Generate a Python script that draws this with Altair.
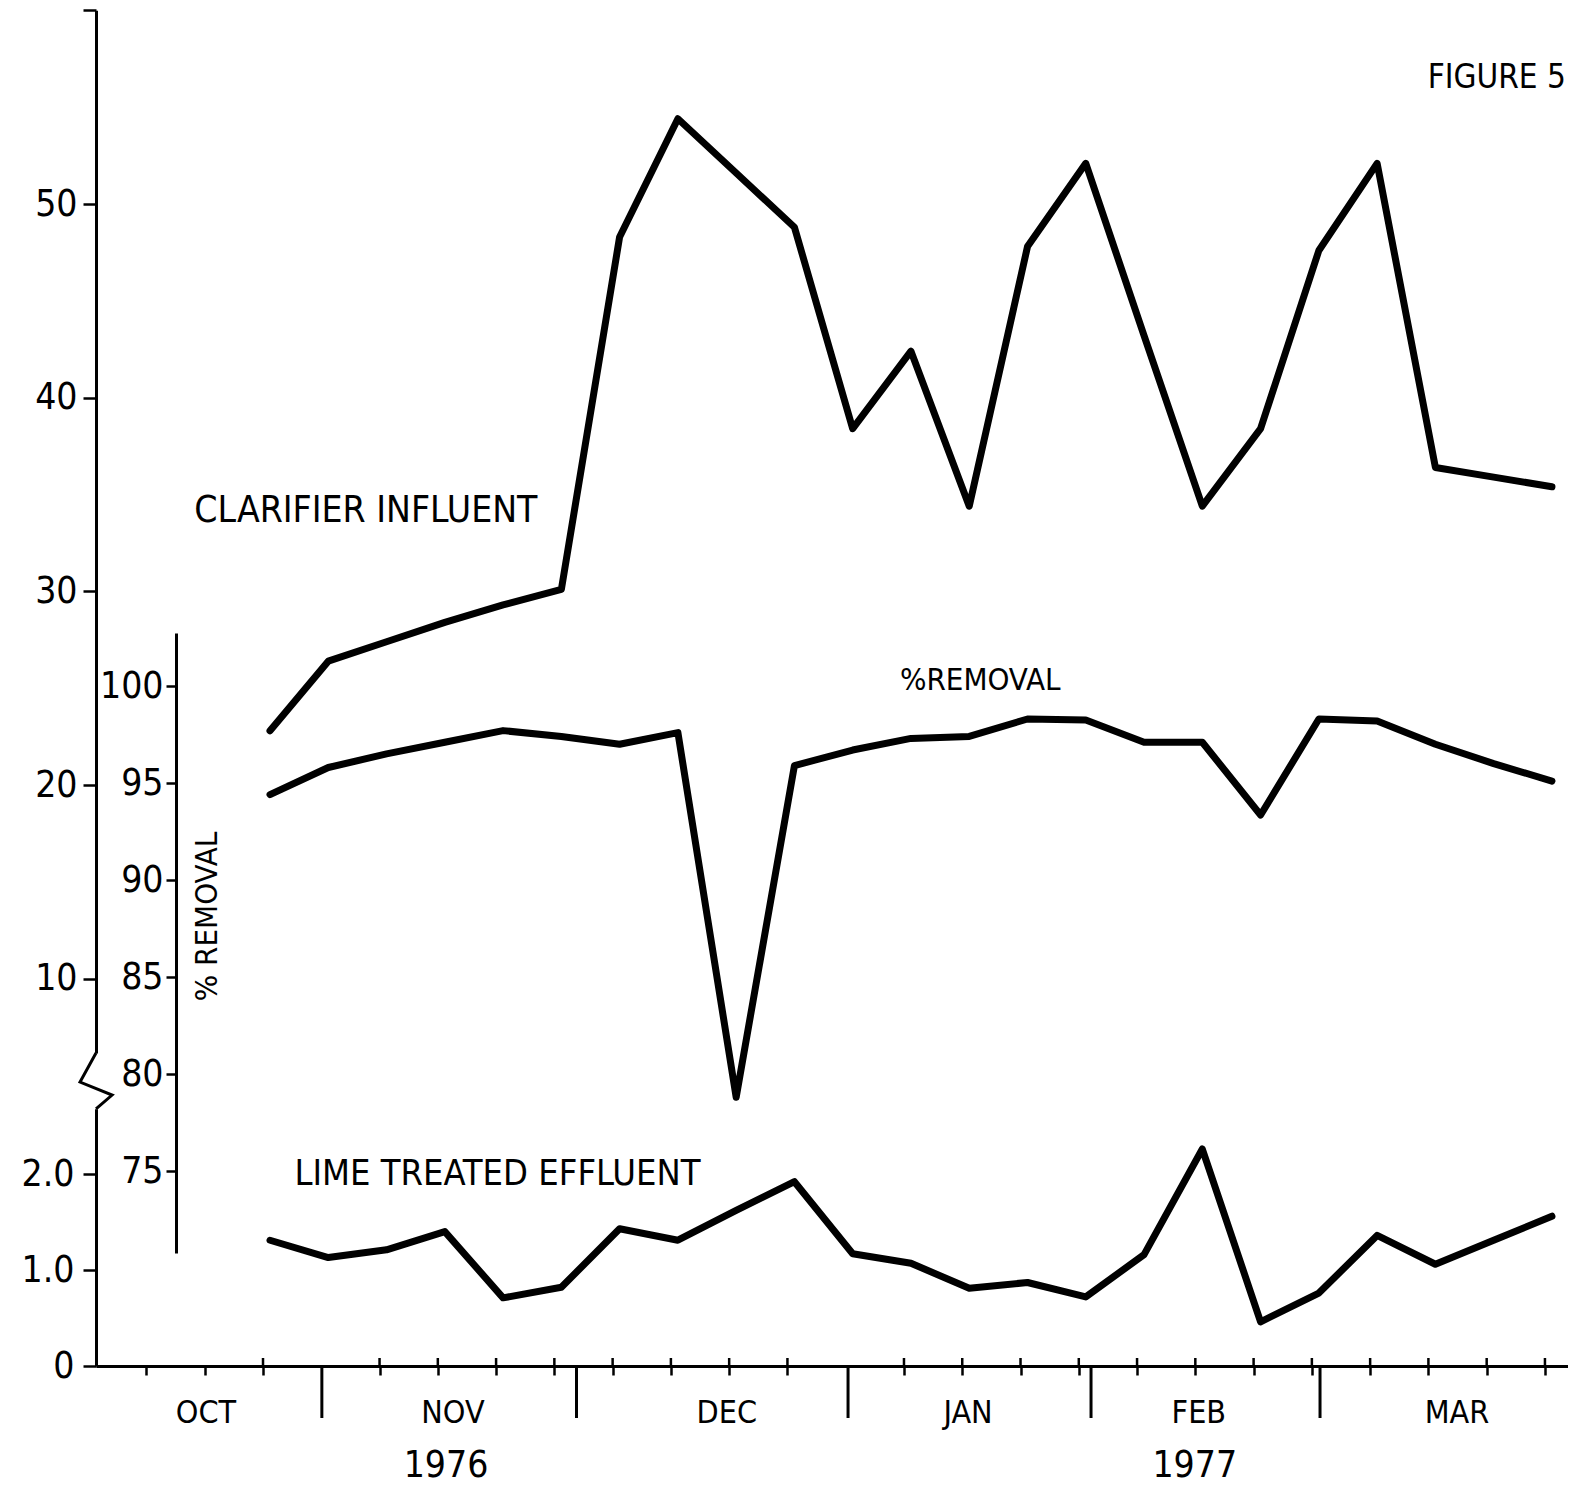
import altair as alt
import pandas as pd

# ---------------- data ----------------
weeks = list(range(2, 25))
clarifier_influent = [22.8, 26.4, 27.4, 28.4, 29.3, 30.1, 48.3, 54.4, 51.6, 48.8, 38.4, 42.4,
                      34.4, 47.8, 52.1, 43.2, 34.4, 38.4, 47.6, 52.1, 36.4, 35.9, 35.4]
percent_removal = [94.4, 95.8, 96.5, 97.1, 97.7, 97.4, 97.0, 97.6, 78.8, 95.9, 96.7, 97.3,
                   97.4, 98.3, 98.25, 97.1, 97.1, 93.35, 98.3, 98.2, 97.0, 96.0, 95.1]
lime_effluent = [1.31, 1.13, 1.21, 1.40, 0.71, 0.82, 1.43, 1.31, 1.62, 1.92, 1.17, 1.07,
                 0.81, 0.87, 0.72, 1.16, 2.26, 0.46, 0.76, 1.36, 1.06, 1.31, 1.56]

upper_ticks = [10, 20, 30, 40, 50, 60]
lower_ticks = [0, 1.0, 2.0]
removal_ticks = [75, 80, 85, 90, 95, 100]

week_ticks = [k - 0.12 for k in range(25) if k not in (3, 12)]
week_ticks_up = [k - 0.12 for k in range(2, 25) if k not in (3, 12)]
month_bounds = [2.89, 7.26, 11.92, 16.09, 20.02]
month_names = ["OCT", "NOV", "DEC", "JAN", "FEB", "MAR"]
month_centers = [0.90, 5.14, 9.84, 13.98, 17.94, 22.37]
year_names = ["1976", "1977"]
year_centers = [5.02, 17.87]

upper_labels = ["CLARIFIER INFLUENT", "%REMOVAL"]
upper_label_x = [0.70, 12.81]
upper_label_y = [33.58, 24.91]
upper_label_size = [37, 31]
figure_label = ["FIGURE 5"]
figure_label_x = [24.24]
figure_label_y = [55.97]
lower_labels = ["LIME TREATED EFFLUENT"]
lower_label_x = [2.42]
lower_label_y = [1.885]

zig_x = [-0.986, -1.26, -0.71, -0.986]
zig_y = [6.17, 4.67, 4.0, 3.28]

# ---------------- layout ----------------
FONT = "Liberation Sans Narrow, DejaVu Sans Condensed, Arial Narrow, sans-serif"
TOP_PAD, LEFT_PAD, BOTTOM_PAD = 2, 88, 122
W, H = 1472, 1356
ORIGIN_Y = 8 + TOP_PAD
PX_PER_WEEK = 58.27


def py(page_y):
    return page_y - ORIGIN_Y


def upper_page(v):
    return 204 + (50 - v) * 19.37


def lower_page(v):
    return 1366 - v * 96


def removal_page(v):
    return 686 + (100 - v) * 19.4


X0 = 2 + (8 + LEFT_PAD - 270) / PX_PER_WEEK
X1 = 2 + (8 + LEFT_PAD + W - 270) / PX_PER_WEEK
xs = alt.Scale(domain=[X0, X1], nice=False, zero=False)

up_dom = [6.17, 60]
upper_scale = alt.Scale(domain=up_dom, range=[py(upper_page(up_dom[0])), py(upper_page(up_dom[1]))],
                        nice=False, zero=False)
lo_dom = [0, 2.68]
lower_scale = alt.Scale(domain=lo_dom, range=[py(lower_page(lo_dom[0])), py(lower_page(lo_dom[1]))],
                        nice=False, zero=False)
rm_dom = [70.77, 102.73]
removal_scale = alt.Scale(domain=rm_dom, range=[py(removal_page(rm_dom[0])), py(removal_page(rm_dom[1]))],
                          nice=False, zero=False)

df = pd.DataFrame({"week": weeks, "clar": clarifier_influent, "rem": percent_removal,
                   "lime": lime_effluent})

LINE = dict(color="black", strokeWidth=7, strokeJoin="round", strokeCap="round")
TICK_FS = 37

x_axis = alt.Axis(orient="bottom", values=week_ticks, labels=False, tickSize=9, tickWidth=2.5,
                  domainWidth=3, domainColor="black", tickColor="black", grid=False, title=None,
                  domain=True, ticks=True)

clar_line = alt.Chart(df).mark_line(**LINE).encode(
    x=alt.X("week:Q", scale=xs, axis=x_axis),
    y=alt.Y("clar:Q", scale=upper_scale,
            axis=alt.Axis(orient="left", values=upper_ticks, tickSize=13, tickWidth=2.5,
                          labelPadding=6, domainWidth=3, grid=False, title=None,
                          labelFontSize=TICK_FS,
                          labelExpr="datum.value == 60 ? '' : datum.label")),
)

rem_line = alt.Chart(df).mark_line(**LINE).encode(
    x=alt.X("week:Q", scale=xs, axis=None),
    y=alt.Y("rem:Q", scale=removal_scale,
            axis=alt.Axis(orient="left", offset=-80, values=removal_ticks, tickSize=10,
                          tickWidth=2.5, labelPadding=3, domainWidth=3, grid=False,
                          labelFontSize=TICK_FS,
                          title="% REMOVAL", titleAngle=270, titleX=31, titleY=906,
                          titleFontSize=31, titleFontWeight="normal", titleAlign="center",
                          titleBaseline="middle")),
)

lime_line = alt.Chart(df).mark_line(**LINE).encode(
    x=alt.X("week:Q", scale=xs, axis=None),
    y=alt.Y("lime:Q", scale=lower_scale,
            axis=alt.Axis(orient="left", values=lower_ticks, tickSize=13, tickWidth=2.5,
                          labelPadding=9, domainWidth=3, grid=False, title=None,
                          labelFontSize=TICK_FS,
                          labelExpr="datum.value == 0 ? '0' : format(datum.value, '.1f')")),
)

zig = alt.Chart(pd.DataFrame({"zx": zig_x, "zy": zig_y, "i": range(len(zig_x))})).mark_line(
    color="black", strokeWidth=3, strokeJoin="miter").encode(
    x=alt.X("zx:Q", scale=xs, axis=None),
    y=alt.Y("zy:Q", scale=upper_scale, axis=None),
    order="i:O",
)

up_ticks = alt.Chart(pd.DataFrame({"t": week_ticks_up})).mark_rule(
    color="black", strokeWidth=2.5).encode(
    x=alt.X("t:Q", scale=xs, axis=None),
    y=alt.value(H - 8), y2=alt.value(H),
)

month_ticks = alt.Chart(pd.DataFrame({"b": month_bounds})).mark_rule(
    color="black", strokeWidth=3).encode(
    x=alt.X("b:Q", scale=xs, axis=None),
    y=alt.value(H), y2=alt.value(H + 52),
)

month_text = alt.Chart(pd.DataFrame({"m": month_names, "c": month_centers})).mark_text(
    fontSize=32, baseline="alphabetic", align="center", color="black").encode(
    x=alt.X("c:Q", scale=xs, axis=None),
    y=alt.value(H + 57),
    text="m:N",
)

year_text = alt.Chart(pd.DataFrame({"yname": year_names, "c": year_centers})).mark_text(
    fontSize=37, baseline="alphabetic", align="center", color="black").encode(
    x=alt.X("c:Q", scale=xs, axis=None),
    y=alt.value(H + 111),
    text="yname:N",
)

upper_text = alt.Chart(pd.DataFrame({"t": upper_labels, "lx": upper_label_x, "ly": upper_label_y,
                                     "s": upper_label_size})).mark_text(
    baseline="alphabetic", align="left", color="black").encode(
    x=alt.X("lx:Q", scale=xs, axis=None),
    y=alt.Y("ly:Q", scale=upper_scale, axis=None),
    size=alt.Size("s:Q", scale=None, legend=None),
    text="t:N",
)

figure_text = alt.Chart(pd.DataFrame({"t": figure_label, "lx": figure_label_x,
                                      "ly": figure_label_y})).mark_text(
    baseline="alphabetic", align="right", color="black", fontSize=33).encode(
    x=alt.X("lx:Q", scale=xs, axis=None),
    y=alt.Y("ly:Q", scale=upper_scale, axis=None),
    text="t:N",
)

lower_text = alt.Chart(pd.DataFrame({"t": lower_labels, "lx": lower_label_x,
                                     "ly": lower_label_y})).mark_text(
    baseline="alphabetic", align="left", color="black", fontSize=36).encode(
    x=alt.X("lx:Q", scale=xs, axis=None),
    y=alt.Y("ly:Q", scale=lower_scale, axis=None),
    text="t:N",
)

chart = alt.layer(
    clar_line, rem_line, lime_line, zig, up_ticks, month_ticks, month_text, year_text,
    upper_text, figure_text, lower_text,
).resolve_scale(y="independent").resolve_axis(x="independent").properties(
    width=W, height=H,
    autosize=alt.AutoSizeParams(type="none"),
    padding={"left": LEFT_PAD, "top": TOP_PAD, "right": 0, "bottom": BOTTOM_PAD},
    background="white",
).configure(font=FONT).configure_view(stroke=None).configure_axis(
    labelFont=FONT, titleFont=FONT, labelColor="black", titleColor="black",
    domainColor="black", tickColor="black", labelFontWeight="normal",
).configure_text(font=FONT)

chart.save("out.html", embed_options={"renderer": "svg", "actions": False})
